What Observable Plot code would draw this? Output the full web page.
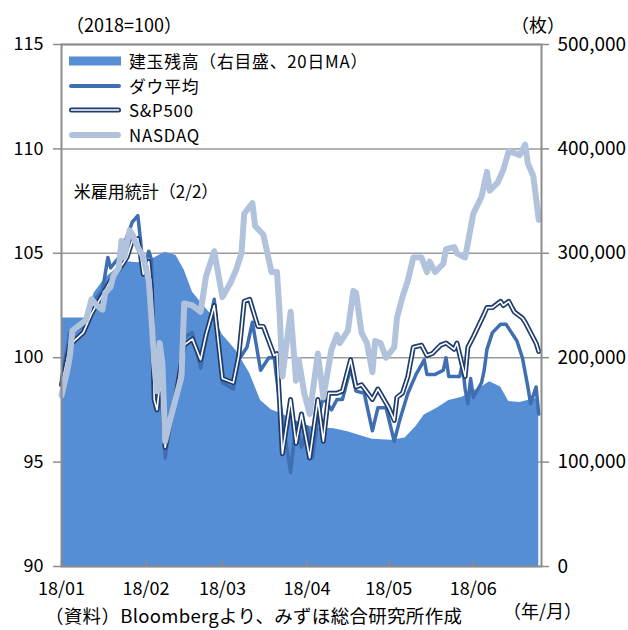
<!DOCTYPE html>
<html><head><meta charset="utf-8">
<script src="https://cdn.jsdelivr.net/npm/d3@7"></script>
<script src="https://cdn.jsdelivr.net/npm/@observablehq/plot@0.6"></script>
<style>
html,body{margin:0;padding:0;background:#fff;overflow:hidden;}
#wrap{position:relative;width:628px;height:630px;font-family:"Noto Sans CJK JP",sans-serif;color:#000;}
#wrap > svg{position:absolute;left:0;top:0;}
.lbl{position:absolute;white-space:nowrap;font-size:18px;line-height:normal;}
.row{position:absolute;left:69px;height:24px;display:flex;align-items:center;white-space:nowrap;font-size:16.8px;letter-spacing:0.8px;line-height:normal;}
.row svg{display:block;margin-right:4px;}
</style></head><body><div id="wrap"></div>
<script>
// ---------- data ----------
const nasdaqDates = ["01-01","01-03","01-04","01-05","01-10","01-12","01-14","01-16","01-17","01-19","01-20","01-22","01-23","01-24","01-26","01-27","01-29","01-31",
"02-02","02-03","02-04","02-05","02-06","02-07","02-08","02-10","02-12","02-14","02-15","02-18","02-21","02-23","02-26",
"03-01","03-04","03-06","03-08","03-09","03-12","03-13","03-16","03-19","03-21","03-22","03-23","03-26","03-28","03-29","03-31",
"04-02","04-05","04-07","04-10","04-12","04-13","04-16","04-18","04-19","04-21","04-23","04-25","04-26","04-28","04-30",
"05-03","05-04","05-06","05-08","05-10","05-13","05-15","05-16","05-18","05-21","05-22","05-25","05-26","05-29","05-30",
"06-01","06-04","06-06","06-07","06-10","06-12","06-14","06-18","06-20","06-21","06-23","06-25"];
const nasdaqValues = [98.2,99.3,100.0,101.3,101.8,102.8,102.5,102.3,103.1,103.4,103.9,104.3,105.6,104.8,106.1,105.9,105.3,104.8,
103.7,101.9,99.7,98.4,100.7,99.7,96.0,97.1,98.1,99.1,102.6,102.5,102.2,103.9,105.1,
102.9,103.6,104.2,105.0,106.9,107.4,106.3,105.9,104.1,104.1,102.1,99.1,102.2,98.9,99.9,98.3,
97.3,100.2,98.1,100.4,101.1,100.7,101.3,103.2,103.1,101.2,100.7,99.3,100.8,100.7,100.0,
100.5,101.9,102.9,103.7,104.8,104.8,104.1,104.6,104.1,104.5,105.2,105.3,105.0,104.8,105.5,
106.9,107.7,108.9,108.0,108.4,109.0,109.9,109.7,110.2,109.3,108.7,106.6];

const dowDates = ["01-01","01-03","01-04","01-09","01-12","01-14","01-16","01-18","01-19","01-22","01-23","01-27","01-29","01-30","01-31",
"02-02","02-03","02-04","02-05","02-06","02-07","02-08","02-10","02-12","02-15","02-18","02-21","02-23","02-26",
"03-01","03-05","03-07","03-10","03-12","03-15","03-18","03-20","03-21","03-23","03-26","03-28","03-30",
"04-01","04-03","04-05","04-07","04-10","04-12","04-14","04-17","04-19","04-22","04-25","04-27","04-30",
"05-03","05-05","05-08","05-11","05-14","05-15","05-18","05-21","05-22","05-23","05-27","05-28","05-29","05-30","05-31",
"06-01","06-04","06-05","06-06","06-08","06-11","06-13","06-15","06-17","06-19","06-21","06-22","06-24","06-25"];
const dowValues = [99.0,100.4,101.2,101.5,102.6,102.9,103.2,104.8,104.3,104.8,105.1,106.5,106.8,105.6,104.1,
105.1,104.7,98.3,97.6,98.7,98.3,95.2,97.0,98.1,101.0,101.2,99.5,100.9,102.8,
98.8,98.5,99.9,100.5,101.7,99.4,100.0,100.0,98.9,97.0,94.5,96.9,95.7,
96.7,95.2,97.1,98.1,97.5,98.0,98.0,99.5,98.4,98.3,96.5,97.6,97.6,
96.0,97.0,98.3,99.2,99.9,99.2,99.2,99.4,100.0,99.1,99.1,99.7,98.5,97.8,99.0,
98.1,98.8,99.4,100.4,101.2,101.6,101.6,101.2,100.8,100.0,98.6,97.8,98.6,97.3];

const spDates = ["01-01","01-03","01-04","01-09","01-12","01-16","01-19","01-23","01-25","01-27","01-29","01-30","01-31",
"02-02","02-03","02-04","02-05","02-06","02-07","02-08","02-10","02-12","02-15","02-18","02-21","02-23","02-26",
"03-01","03-05","03-07","03-09","03-11","03-14","03-16","03-20","03-21","03-23","03-26","03-28","03-30",
"04-02","04-05","04-07","04-09","04-12","04-14","04-17","04-19","04-21","04-25","04-27",
"05-01","05-03","05-04","05-06","05-08","05-10","05-13","05-15","05-17","05-20","05-22","05-25","05-26","05-28","05-29","05-30",
"06-01","06-05","06-06","06-08","06-11","06-12","06-14","06-16","06-19","06-20","06-22","06-24","06-25"];
const spValues = [98.7,99.9,100.6,101.2,102.1,103.0,103.7,104.4,104.8,105.6,105.7,104.9,104.0,
104.6,103.2,98.0,97.5,98.7,98.2,95.7,97.0,98.2,100.6,100.9,99.9,101.1,102.5,
99.0,98.8,100.1,102.7,102.8,101.5,101.5,100.1,100.2,95.4,98.0,95.9,97.3,
95.2,98.0,96.0,98.3,98.3,98.4,99.9,98.6,98.7,98.0,98.5,
97.6,97.0,98.1,98.3,99.1,100.5,100.6,100.1,100.2,100.6,100.7,100.4,100.7,99.6,99.1,100.5,
101.0,102.1,102.4,102.4,102.7,102.5,102.7,102.2,101.9,101.7,101.2,100.7,100.3];

// open interest, 20-day moving average (contracts, right axis)
const oiDates = ["01-01","01-10","01-13","01-17","01-22","01-25","01-29","02-03","02-05","02-08","02-12","02-15","02-18","02-22","02-26",
"03-01","03-06","03-11","03-15","03-19","03-22","03-26","03-31","04-05","04-11","04-16","04-21","04-25",
"05-02","05-07","05-11","05-14","05-19","05-23","05-28","06-01","06-04","06-07","06-11","06-14","06-18","06-24","06-25"];
const oiValues = [238000,238000,262000,276000,287000,292000,291000,294000,297000,301000,298000,284000,263000,250000,238000,
222000,207000,185000,159000,150000,147000,142000,135000,133000,132000,129000,125000,122000,
121000,123000,134000,145000,152000,159000,162000,168000,172000,177000,172000,158000,157000,161000,161000];

const leftTicks = [90,95,100,105,110,115];
const rightMax = 500000;
const monthTicks = ["01-01","02-01","03-01","04-01","05-01","06-01"];
const xDomain = ["01-01","06-26"];
const annotDates = ["02-01"], annotValues = [107.9], annotTexts = ["米雇用統計（2/2）"];

const legendLabels = ["建玉残高（右目盛、20日MA）","ダウ平均","S&P500","NASDAQ"];
const leftUnit = "（2018=100）", rightUnit = "（枚）", xUnit = "（年/月）";
const source = "（資料）Bloombergより、みずほ総合研究所作成";

// ---------- build ----------
const parse = s => d3.utcParse("%Y-%m-%d")("2018-" + s);
const rows = (ds, vs) => ds.map((d, i) => ({date: parse(d), value: vs[i]}));
const nasdaq = rows(nasdaqDates, nasdaqValues);
const dow = rows(dowDates, dowValues);
const sp = rows(spDates, spValues);
const oi = rows(oiDates, oiValues);
const annot = annotDates.map((d, i) => ({date: parse(d), value: annotValues[i], text: annotTexts[i]}));
const months = monthTicks.map(parse);
const yMin = leftTicks[0], yMax = leftTicks[leftTicks.length - 1];
const toLeft = v => yMin + v / rightMax * (yMax - yMin);
const toRight = y => (y - yMin) / (yMax - yMin) * rightMax;

const C = {area: "#558ed5", dow: "#3f6fb2", spOuter: "#1f3c6e", nasdaq: "#b1c3dc", axis: "#8c8c8c", grid: "#9a9a9a"};
const font = '"Noto Sans CJK JP", sans-serif';

const chart = Plot.plot({
  width: 628, height: 630,
  marginLeft: 61, marginRight: 87, marginTop: 44, marginBottom: 64,
  style: {fontFamily: font, fontSize: "18px", color: "#000", background: "transparent", overflow: "visible"},
  x: {type: "utc", domain: xDomain.map(parse)},
  y: {domain: [yMin, yMax]},
  marks: [
    Plot.gridY(leftTicks, {stroke: C.grid, strokeOpacity: 1, strokeWidth: 1.5}),
    Plot.areaY(oi, {x: "date", y1: () => yMin, y2: d => toLeft(d.value), fill: C.area}),
    Plot.line(dow, {x: "date", y: "value", stroke: C.dow, strokeWidth: 3.5, strokeLinejoin: "round", strokeLinecap: "round"}),
    Plot.line(sp, {x: "date", y: "value", stroke: C.spOuter, strokeWidth: 5, strokeLinejoin: "round", strokeLinecap: "round"}),
    Plot.line(sp, {x: "date", y: "value", stroke: "#ffffff", strokeWidth: 1.6, strokeLinejoin: "round", strokeLinecap: "round"}),
    Plot.line(nasdaq, {x: "date", y: "value", stroke: C.nasdaq, strokeWidth: 6, strokeLinejoin: "round", strokeLinecap: "round"}),
    Plot.ruleX(months, {x: d => d, y1: () => yMin, y2: () => yMin + 0.3, stroke: C.axis, strokeWidth: 1.5}),
    Plot.frame({stroke: C.axis, strokeWidth: 2}),
    Plot.axisY(leftTicks, {anchor: "left", tickSize: 8, tickPadding: 10, stroke: C.axis, strokeWidth: 1.5, fill: "#000", label: null, fontSize: 18}),
    Plot.axisY(leftTicks, {anchor: "right", tickSize: 7, tickPadding: 9, stroke: C.axis, strokeWidth: 1.5, fill: "#000", label: null, fontSize: 19,
      tickFormat: y => d3.format(",")(Math.round(toRight(y)))}),
    Plot.axisX(months, {anchor: "bottom", tickSize: 0, tickPadding: 16, fill: "#000", label: null, fontSize: 18,
      tickFormat: d3.utcFormat("%y/%m")}),
    Plot.text(annot, {x: "date", y: "value", text: "text", fontSize: 17, fill: "#000", textAnchor: "middle"})
  ]
});
const wrap = document.getElementById("wrap");
wrap.appendChild(chart);

function addLabel(text, style) {
  const d = document.createElement("div");
  d.className = "lbl"; d.textContent = text;
  Object.assign(d.style, style);
  wrap.appendChild(d);
  return d;
}
addLabel(leftUnit, {left: "66px", top: "11px"});
addLabel(rightUnit, {left: "511px", top: "11px"});
addLabel(xUnit, {right: "46px", top: "597px"});
addLabel(source, {left: "45px", top: "602px", fontSize: "18.5px", letterSpacing: "0.3px"});

// legend
const swatches = [
  `<svg width="56" height="24"><rect x="0" y="7.5" width="52" height="9" fill="${C.area}"/></svg>`,
  `<svg width="56" height="24"><line x1="2" x2="50" y1="12" y2="12" stroke="${C.dow}" stroke-width="4" stroke-linecap="round"/></svg>`,
  `<svg width="56" height="24"><line x1="2.5" x2="49.5" y1="12" y2="12" stroke="${C.spOuter}" stroke-width="5" stroke-linecap="round"/><line x1="2.5" x2="49.5" y1="12" y2="12" stroke="#fff" stroke-width="1.6" stroke-linecap="round"/></svg>`,
  `<svg width="56" height="24"><line x1="3" x2="49" y1="12" y2="12" stroke="${C.nasdaq}" stroke-width="6" stroke-linecap="round"/></svg>`
];
const legendCenters = [61, 85.5, 110, 134.5];
legendLabels.forEach((t, i) => {
  const r = document.createElement("div");
  r.className = "row";
  r.style.top = (legendCenters[i] - 12) + "px";
  r.innerHTML = swatches[i];
  const s = document.createElement("span");
  s.textContent = t;
  r.appendChild(s);
  wrap.appendChild(r);
});
</script></body></html>
